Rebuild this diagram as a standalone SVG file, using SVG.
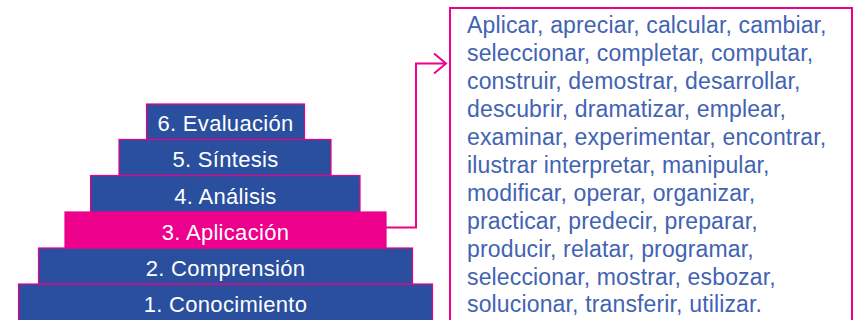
<svg xmlns="http://www.w3.org/2000/svg" width="857" height="320" viewBox="0 0 857 320">
<style>
.lvl{fill:#2a4f9f;stroke:#ec008c;stroke-width:1.2}
.hl{fill:#ec008c;stroke:#ec008c;stroke-width:1.2}
.lbl{font-family:"Liberation Sans",Arial,sans-serif;font-size:22px;letter-spacing:0.3px;fill:#ffffff;text-anchor:middle}
.txt{font-family:"Liberation Sans",Arial,sans-serif;font-size:23px;letter-spacing:0.15px;fill:#4263b3}
.con{fill:none;stroke:#ec008c;stroke-width:2}
</style>
<defs>
<marker id="arr" markerWidth="16" markerHeight="24" refX="14" refY="11" orient="auto" markerUnits="userSpaceOnUse">
<path d="M2,1 L14,11 L2,21" fill="none" stroke="#ec008c" stroke-width="2"/>
</marker>
</defs>
<g id="n1"><rect class="lvl" x="18.5" y="284" width="414" height="40"/><text class="lbl" x="225.5" y="312">1. Conocimiento</text></g>
<g id="n2"><rect class="lvl" x="38.5" y="248" width="374" height="36"/><text class="lbl" x="225.5" y="276">2. Comprensión</text></g>
<g id="n3"><rect class="hl" x="65" y="212" width="321" height="36"/><text class="lbl" x="225.5" y="239.5">3. Aplicación</text></g>
<g id="n4"><rect class="lvl" x="90.5" y="175.5" width="269.5" height="36.5"/><text class="lbl" x="225.5" y="203.5">4. Análisis</text></g>
<g id="n5"><rect class="lvl" x="119" y="139.5" width="212" height="36"/><text class="lbl" x="225.5" y="167">5. Síntesis</text></g>
<g id="n6"><rect class="lvl" x="146.5" y="104" width="158" height="35.5"/><text class="lbl" x="225.5" y="130.5">6. Evaluación</text></g>
<g id="verbs">
<rect x="450" y="8" width="402" height="320" fill="#ffffff" stroke="#ec008c" stroke-width="2"/>
<text class="txt" x="467" y="33.4">Aplicar, apreciar, calcular, cambiar,</text>
<text class="txt" x="467" y="61.3">seleccionar, completar, computar,</text>
<text class="txt" x="467" y="89.2">construir, demostrar, desarrollar,</text>
<text class="txt" x="467" y="117.1">descubrir, dramatizar, emplear,</text>
<text class="txt" x="467" y="145">examinar, experimentar, encontrar,</text>
<text class="txt" x="467" y="172.9">ilustrar interpretar, manipular,</text>
<text class="txt" x="467" y="200.8">modificar, operar, organizar,</text>
<text class="txt" x="467" y="228.7">practicar, predecir, preparar,</text>
<text class="txt" x="467" y="256.6">producir, relatar, programar,</text>
<text class="txt" x="467" y="284.5">seleccionar, mostrar, esbozar,</text>
<text class="txt" x="467" y="312.4">solucionar, transferir, utilizar.</text>
</g>
<g id="connectors">
<path class="con" d="M386,227.5 H416 V63.5 H446" marker-end="url(#arr)"/>
</g>
</svg>
